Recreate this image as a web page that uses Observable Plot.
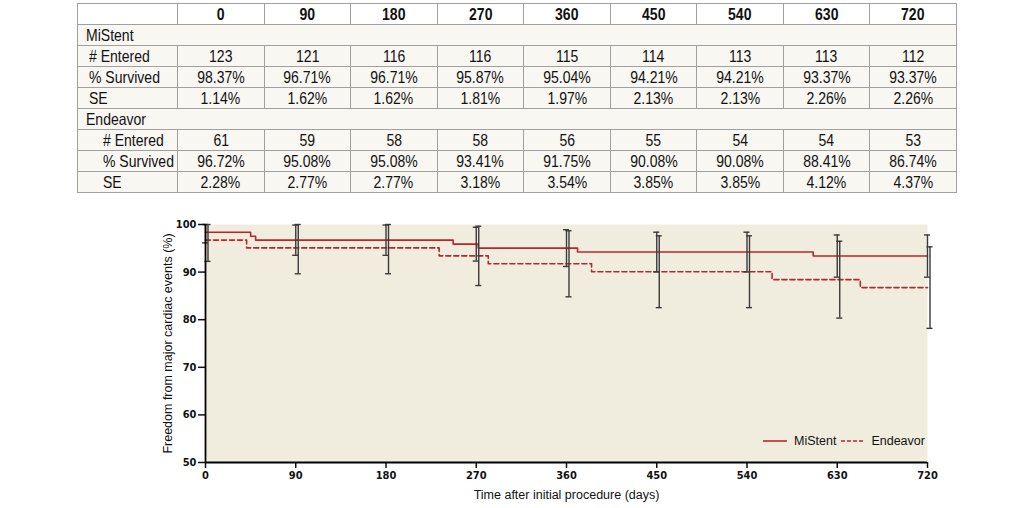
<!DOCTYPE html>
<html><head><meta charset="utf-8">
<script src="https://cdn.jsdelivr.net/npm/d3@7"></script>
<script src="https://cdn.jsdelivr.net/npm/@observablehq/plot@0.6"></script>
<style>
body{margin:0;background:#fff;width:1033px;height:508px;position:relative;overflow:hidden;}
#tbl{position:absolute;left:77px;top:3px;border-collapse:collapse;width:880px;table-layout:fixed;
 font-family:"Liberation Sans",Arial,sans-serif;font-size:16.5px;color:#111;background:#f8f7f2;}
#tbl td,#tbl th{height:20px;padding:0;border:1px solid #a0a0a0;text-align:center;line-height:19px;white-space:nowrap;overflow:visible}
#tbl th{background:#fff;font-weight:bold}
#tbl span{display:inline-block;transform:scaleX(0.85);transform-origin:50% 50%}
#tbl td.grp,#tbl td.lab1,#tbl td.lab2{text-align:left}
#tbl td.grp span,#tbl td.lab1 span,#tbl td.lab2 span{transform-origin:0 50%}
#tbl td.grp{padding-left:8px}
#tbl td.lab1{padding-left:11px}
#tbl td.lab2{padding-left:25px}
#chart{position:absolute;left:0;top:200px}
#legend{position:absolute;left:762px;top:434px;font:12.5px "Liberation Sans",Arial,sans-serif;color:#111;display:flex;align-items:center;white-space:nowrap}
#legend svg{display:block}
#chart g[aria-label="x-axis label"] text,#chart g[aria-label="y-axis label"] text,
#chart g[aria-label="x-axis label"],#chart g[aria-label="y-axis label"]{font-family:"Liberation Sans",Arial,sans-serif;font-weight:normal;font-size:12.5px}
</style>
</head><body>
<table id="tbl"></table>
<div id="chart"></div>
<div id="legend"></div>
<script>
// ---- Data ----
const times = [0, 90, 180, 270, 360, 450, 540, 630, 720];
const groups = ["MiStent", "Endeavor"];
const mistentEntered = [123, 121, 116, 116, 115, 114, 113, 113, 112];
const mistentSurvived = [98.37, 96.71, 96.71, 95.87, 95.04, 94.21, 94.21, 93.37, 93.37];
const mistentSE = [1.14, 1.62, 1.62, 1.81, 1.97, 2.13, 2.13, 2.26, 2.26];
const endeavorEntered = [61, 59, 58, 58, 56, 55, 54, 54, 53];
const endeavorSurvived = [96.72, 95.08, 95.08, 93.41, 91.75, 90.08, 90.08, 88.41, 86.74];
const endeavorSE = [2.28, 2.77, 2.77, 3.18, 3.54, 3.85, 3.85, 4.12, 4.37];
// Kaplan-Meier step curves (event days)
const mistentStepDays = [0, 45, 50, 247, 272, 371, 606, 720];
const mistentStepSurv = [98.37, 97.54, 96.71, 95.87, 95.04, 94.21, 93.37, 93.37];
const endeavorStepDays = [0, 41, 233, 282, 385, 565, 653, 720];
const endeavorStepSurv = [96.72, 95.08, 93.41, 91.75, 90.08, 88.41, 86.74, 86.74];
const xTicks = [0, 90, 180, 270, 360, 450, 540, 630, 720];
const yTicks = [50, 60, 70, 80, 90, 100];
const rowLabels = ["# Entered", "% Survived", "SE"];
const xLabel = "Time after initial procedure (days)";
const yLabel = "Freedom from major cardiac events (%)";

const red = "#b8272d";
const barColor = "#3a3a3a";

// ---- Table ----
const tbl = document.getElementById("tbl");
const sp = v => `<span>${v}</span>`;
let html = "<colgroup><col style='width:100px'>" + times.map(() => "<col>").join("") + "</colgroup>";
html += "<tr><th></th>" + times.map(t => `<th>${sp(t)}</th>`).join("") + "</tr>";
const sets = [
  [groups[0], mistentEntered, mistentSurvived, mistentSE, "lab1"],
  [groups[1], endeavorEntered, endeavorSurvived, endeavorSE, "lab2"]
];
for (const [name, n, s, se, cls] of sets) {
  html += `<tr><td class="grp" colspan="${times.length + 1}">${sp(name)}</td></tr>`;
  html += `<tr><td class="${cls}">${sp(rowLabels[0])}</td>` + n.map(v => `<td>${sp(v)}</td>`).join("") + "</tr>";
  html += `<tr><td class="${cls}">${sp(rowLabels[1])}</td>` + s.map(v => `<td>${sp(v.toFixed(2) + "%")}</td>`).join("") + "</tr>";
  html += `<tr><td class="${cls}">${sp(rowLabels[2])}</td>` + se.map(v => `<td>${sp(v.toFixed(2) + "%")}</td>`).join("") + "</tr>";
}
tbl.innerHTML = html;

// ---- Chart data ----
const steps = [
  ...mistentStepDays.map((d, i) => ({group: groups[0], day: d, surv: mistentStepSurv[i]})),
  ...endeavorStepDays.map((d, i) => ({group: groups[1], day: d, surv: endeavorStepSurv[i]}))
];
function bars(name, s, se) {
  return times.map((t, i) => ({
    group: name, day: t,
    lo: Math.max(50, s[i] - 1.96 * se[i]),
    hi: Math.min(100, s[i] + 1.96 * se[i])
  }));
}
const msBars = bars(groups[0], mistentSurvived, mistentSE);
const enBars = bars(groups[1], endeavorSurvived, endeavorSE);
const capHalf = 3;

function errMarks(data, dx) {
  return [
    Plot.ruleX(data, {x: "day", y1: "lo", y2: "hi", stroke: barColor, strokeWidth: 1.4, dx}),
    Plot.ruleY(data, {y: "lo", x1: d => d.day - capHalf, x2: d => d.day + capHalf, stroke: barColor, strokeWidth: 1.4, dx}),
    Plot.ruleY(data, {y: "hi", x1: d => d.day - capHalf, x2: d => d.day + capHalf, stroke: barColor, strokeWidth: 1.4, dx})
  ];
}

const chart = Plot.plot({
  width: 1033, height: 308,
  marginLeft: 205, marginRight: 106, marginTop: 24, marginBottom: 46,
  x: {domain: [0, 720]},
  y: {domain: [50, 100]},
  style: {fontFamily: '"DejaVu Sans Condensed","Liberation Sans",sans-serif', fontSize: "11px", fontWeight: "bold", color: "#111", background: "transparent", overflow: "visible"},
  marks: [
    Plot.frame({fill: "#f1edde", stroke: "none"}),
    Plot.line(steps.filter(d => d.group === groups[1]), {x: "day", y: "surv", curve: "step-after", stroke: red, strokeWidth: 1.6, strokeDasharray: "5,3"}),
    Plot.line(steps.filter(d => d.group === groups[0]), {x: "day", y: "surv", curve: "step-after", stroke: red, strokeWidth: 1.6}),
    ...errMarks(msBars, 0),
    ...errMarks(enBars, 2.5),
    Plot.axisY({ticks: yTicks, tickSize: 7, tickPadding: 2, strokeWidth: 1.5, label: yLabel, labelArrow: "none", labelAnchor: "center", labelOffset: 42}),
    Plot.axisX({ticks: xTicks, tickSize: 6, tickPadding: 3, strokeWidth: 1.5, label: xLabel, labelArrow: "none", labelAnchor: "center", labelOffset: 36}),
    Plot.ruleX([0], {y1: 50, y2: 100, stroke: "#000", strokeWidth: 1.8}),
    Plot.ruleY([50], {x1: 0, x2: 720, stroke: "#000", strokeWidth: 1.8})
  ]
});
document.getElementById("chart").appendChild(chart);

// ---- Legend ----
const lg = document.getElementById("legend");
lg.innerHTML =
  `<svg width="26" height="10"><line x1="1" y1="5" x2="25" y2="5" stroke="${red}" stroke-width="1.6"/></svg>` +
  `<span style="margin-left:6px">${groups[0]}</span>` +
  `<svg width="26" height="10" style="margin-left:4px"><line x1="1" y1="5" x2="25" y2="5" stroke="${red}" stroke-width="1.6" stroke-dasharray="4,2"/></svg>` +
  `<span style="margin-left:5px">${groups[1]}</span>`;
</script>
</body></html>
